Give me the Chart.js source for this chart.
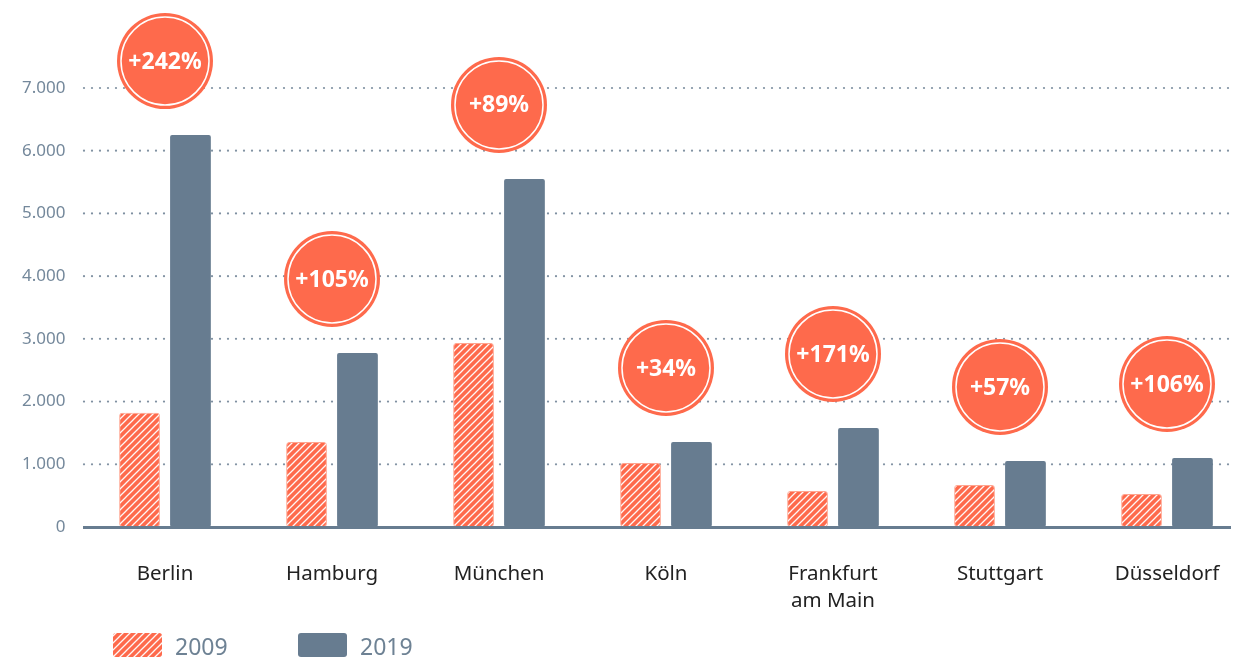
<html lang="de">
<head>
  <meta charset="UTF-8">
  <title>Chart</title>
  <script src="https://cdn.jsdelivr.net/npm/chart.js"></script>
  <style>
    body { margin: 0; overflow: hidden; background: #fff; }
    #wrap { position: relative; width: 1260px; height: 660px; }
  </style>
  <script>
    const cities = ['Berlin', 'Hamburg', 'München', 'Köln', ['Frankfurt', 'am Main'], 'Stuttgart', 'Düsseldorf']
    const values2009 = [1820, 1356, 2935, 1020, 574, 670, 526]
    const values2019 = [6250, 2775, 5550, 1356, 1579, 1053, 1100]
    const growthLabels = ['+242%', '+105%', '+89%', '+34%', '+171%', '+57%', '+106%']
    const yTicks = [0, 1000, 2000, 3000, 4000, 5000, 6000, 7000]
    const seriesNames = ['2009', '2019']

    const orange = '#fe6a4c'
    const slate = '#677c90'
    const fontName = '"Noto Sans", "DejaVu Sans", sans-serif'

    function hatch() {
      const c = document.createElement('canvas')
      c.width = 7
      c.height = 7
      const ctx = c.getContext('2d')
      ctx.fillStyle = orange
      ctx.fillRect(0, 0, 7, 7)
      ctx.strokeStyle = 'rgba(255,255,255,0.95)'
      ctx.lineWidth = 1.3
      ctx.beginPath()
      ctx.moveTo(-1, 8); ctx.lineTo(8, -1)
      ctx.moveTo(-1, 1); ctx.lineTo(1, -1)
      ctx.moveTo(6, 8); ctx.lineTo(8, 6)
      ctx.stroke()
      return ctx.createPattern(c, 'repeat')
    }

    const extras = {
      id: 'extras',
      beforeDatasetsDraw(chart) {
        const { ctx } = chart
        const y = chart.scales.y
        ctx.save()
        ctx.fillStyle = '#7f90a1'
        yTicks.forEach(v => {
          if (v === 0) return
          const py = y.getPixelForValue(v)
          for (let x = 84; x < 1234; x += 8) {
            ctx.beginPath()
            ctx.arc(x, py, 1.1, 0, Math.PI * 2)
            ctx.fill()
          }
        })
        ctx.restore()
      },
      afterDatasetsDraw(chart) {
        const { ctx } = chart
        const y = chart.scales.y
        ctx.save()
        // axis line
        ctx.strokeStyle = slate
        ctx.lineWidth = 3
        ctx.beginPath()
        ctx.moveTo(83, y.getPixelForValue(0) + 0.5)
        ctx.lineTo(1231, y.getPixelForValue(0) + 0.5)
        ctx.stroke()

        // growth circles
        const m0 = chart.getDatasetMeta(0).data
        const m1 = chart.getDatasetMeta(1).data
        m1.forEach((bar, i) => {
          const cx = (m0[i].x + bar.x) / 2
          const top = Math.min(bar.y, m0[i].y)
          const cy = top - 74
          ctx.fillStyle = orange
          ctx.beginPath()
          ctx.arc(cx, cy, 48, 0, Math.PI * 2)
          ctx.fill()
          ctx.strokeStyle = '#fff'
          ctx.lineWidth = 1.5
          ctx.beginPath()
          ctx.arc(cx, cy, 44, 0, Math.PI * 2)
          ctx.stroke()
          ctx.fillStyle = '#fff'
          ctx.font = 'bold 23px ' + fontName
          ctx.textAlign = 'center'
          ctx.textBaseline = 'middle'
          ctx.fillText(growthLabels[i], cx, cy + 1)
        })

        // legend
        const boxes = [113, 298]
        boxes.forEach((bx, i) => {
          ctx.fillStyle = i === 0 ? chart.data.datasets[0].backgroundColor : slate
          ctx.beginPath()
          ctx.roundRect(bx, 633, 49, 24, 3)
          ctx.fill()
          ctx.fillStyle = '#6e8294'
          ctx.font = '23px ' + fontName
          ctx.textAlign = 'left'
          ctx.textBaseline = 'middle'
          ctx.fillText(seriesNames[i], bx + 62, 648)
        })
        ctx.restore()
      }
    }

    window.onload = () => {
      const viz = document.getElementById('viz')
      const pattern = hatch()

      new Chart(viz, {
        type: 'bar',
        data: {
          labels: cities,
          datasets: [{
            label: seriesNames[0],
            data: values2009,
            backgroundColor: pattern,
            borderColor: '#ffa590',
            borderWidth: 1,
            borderRadius: 3,
            borderSkipped: false
          }, {
            label: seriesNames[1],
            data: values2019,
            backgroundColor: slate,
            borderRadius: 2,
            borderSkipped: false
          }]
        },
        options: {
          responsive: false,
          animation: false,
          datasets: {
            bar: { categoryPercentage: 0.61, barPercentage: 0.8 }
          },
          layout: { padding: { top: 88, right: 9.5, left: 0, bottom: 0 } },
          plugins: {
            legend: { display: false },
            tooltip: { enabled: false }
          },
          scales: {
            x: {
              grid: { display: false, drawTicks: false },
              border: { display: false },
              ticks: {
                color: '#222',
                font: { family: fontName, size: 20.5, lineHeight: 1.32 },
                padding: 34,
                maxRotation: 0
              },
              afterFit(s) { s.height = 133 }
            },
            y: {
              min: 0,
              max: 7000,
              grid: { display: false, drawTicks: false },
              border: { display: false },
              afterBuildTicks(s) { s.ticks = yTicks.map(v => ({ value: v })) },
              ticks: {
                color: '#74889b',
                font: { family: fontName, size: 17 },
                padding: 16,
                callback: v => v.toLocaleString('de-DE')
              },
              afterFit(s) { s.width = 81.5 }
            }
          }
        },
        plugins: [extras]
      })
    }
  </script>
</head>
<body>
  <div id="wrap">
    <canvas id="viz" width="1260" height="660"></canvas>
  </div>
</body>
</html>
